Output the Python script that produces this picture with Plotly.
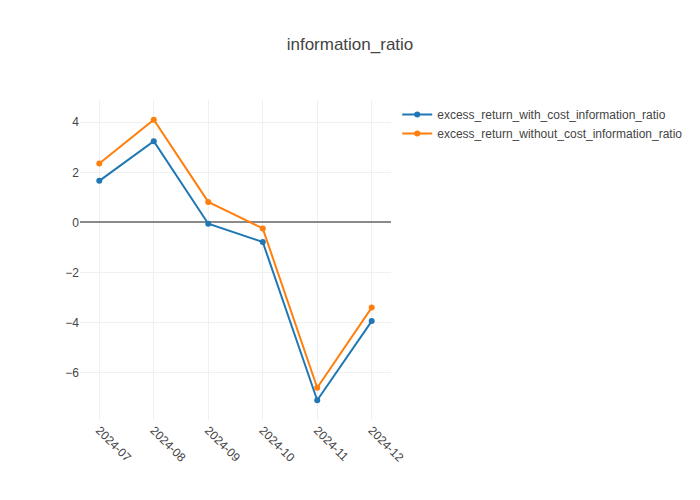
import plotly.graph_objects as go

months = ["2024-07", "2024-08", "2024-09", "2024-10", "2024-11", "2024-12"]
with_cost = [1.66, 3.24, -0.05, -0.78, -7.10, -3.94]
without_cost = [2.35, 4.10, 0.82, -0.24, -6.60, -3.40]

fig = go.Figure()
fig.add_trace(go.Scatter(x=months, y=with_cost, mode="lines+markers",
                         name="excess_return_with_cost_information_ratio",
                         line=dict(color="#1f77b4", width=2), marker=dict(size=6)))
fig.add_trace(go.Scatter(x=months, y=without_cost, mode="lines+markers",
                         name="excess_return_without_cost_information_ratio",
                         line=dict(color="#ff7f0e", width=2), marker=dict(size=6)))
fig.update_layout(
    template="none",
    width=700, height=500,
    font=dict(family="Arial, Liberation Sans, sans-serif"),
    title=dict(text="information_ratio", x=0.5),
    xaxis=dict(type="category", tickangle=45, gridcolor="#f0f0f0"),
    yaxis=dict(zeroline=True, zerolinecolor="#8a8a8a", zerolinewidth=1.5, gridcolor="#f0f0f0"),
)
fig.write_html("out.html", config={"displayModeBar": False},
               post_script="document.body.style.margin='0';")
